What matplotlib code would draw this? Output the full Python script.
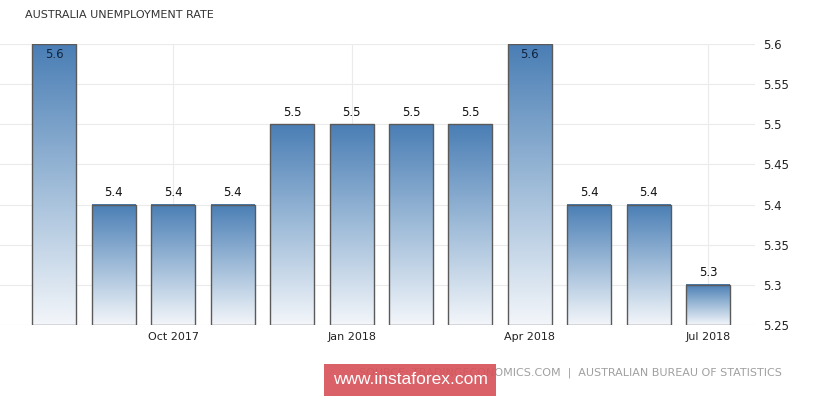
import matplotlib.pyplot as plt
import numpy as np
from matplotlib.colors import LinearSegmentedColormap

months = ['Aug 2017', 'Sep 2017', 'Oct 2017', 'Nov 2017', 'Dec 2017', 'Jan 2018',
          'Feb 2018', 'Mar 2018', 'Apr 2018', 'May 2018', 'Jun 2018', 'Jul 2018']
rates = [5.6, 5.4, 5.4, 5.4, 5.5, 5.5, 5.5, 5.5, 5.6, 5.4, 5.4, 5.3]
tick_months = ['Oct 2017', 'Jan 2018', 'Apr 2018', 'Jul 2018']
y_ticks = [5.25, 5.3, 5.35, 5.4, 5.45, 5.5, 5.55, 5.6]

y_min, y_max = 5.25, 5.6
bar_w = 0.74
grad = LinearSegmentedColormap.from_list('bar', ['#f3f6fa', '#9ebbd8', '#4a7eb5'])

fig = plt.figure(figsize=(8.2, 3.96), dpi=100)
ax = fig.add_axes([0, 71 / 396, 755 / 820, 281 / 396])

x = np.arange(len(months))
ramp = np.linspace(0, 1, 256).reshape(-1, 1)
for xi, v in zip(x, rates):
    ax.imshow(ramp, cmap=grad, origin='lower', aspect='auto', zorder=2,
              interpolation='bilinear',
              extent=[xi - bar_w / 2, xi + bar_w / 2, y_min, v])
    ax.bar(xi, v - y_min, bottom=y_min, width=bar_w, facecolor='none',
           edgecolor='#5a5a5a', linewidth=1.0, zorder=3)
    # top value sits inside the bar, the rest above it
    if v >= y_max - 1e-9:
        ax.annotate(f'{v:.1f}', xy=(xi, v), xytext=(0, -3), textcoords='offset points',
                    ha='center', va='top', fontsize=8.5, color='#0f2540', zorder=4)
    else:
        ax.annotate(f'{v:.1f}', xy=(xi, v), xytext=(0, 4), textcoords='offset points',
                    ha='center', va='bottom', fontsize=8.5, color='#111111', zorder=4)

ax.set_xlim(-0.913, 11.786)
ax.set_ylim(y_min, y_max)
ax.set_xticks([months.index(m) for m in tick_months])
ax.set_xticklabels(tick_months, fontsize=8, color='#222222')
ax.set_yticks(y_ticks)
ax.set_yticklabels([f'{t:g}' for t in y_ticks], fontsize=8.5, color='#222222')
ax.yaxis.tick_right()
ax.tick_params(axis='both', length=0)
ax.tick_params(axis='x', pad=5)
ax.tick_params(axis='y', pad=6)
ax.grid(True, color='#ebebeb', linewidth=0.8, zorder=0)
ax.set_axisbelow(True)
for s in ax.spines.values():
    s.set_visible(False)

fig.text(25 / 820, 1 - 15 / 396, 'AUSTRALIA UNEMPLOYMENT RATE', fontsize=8,
         color='#333333', va='center', ha='left')
fig.text(782 / 820, 1 - 373 / 396,
         'SOURCE: TRADINGECONOMICS.COM  |  AUSTRALIAN BUREAU OF STATISTICS',
         fontsize=8, color='#a0a0a0', va='center', ha='right')
# watermark box, drawn over the left part of the source line (slightly see-through)
fig.text(410 / 820, 1 - 380 / 396, 'www.instaforex.com', fontsize=12.5, color='white',
         family='Liberation Sans', ha='center', va='center', zorder=5,
         bbox=dict(boxstyle='square,pad=0.5', facecolor='#d6545a', alpha=0.92,
                   edgecolor='none'))

fig.savefig('out.png', dpi=100)
